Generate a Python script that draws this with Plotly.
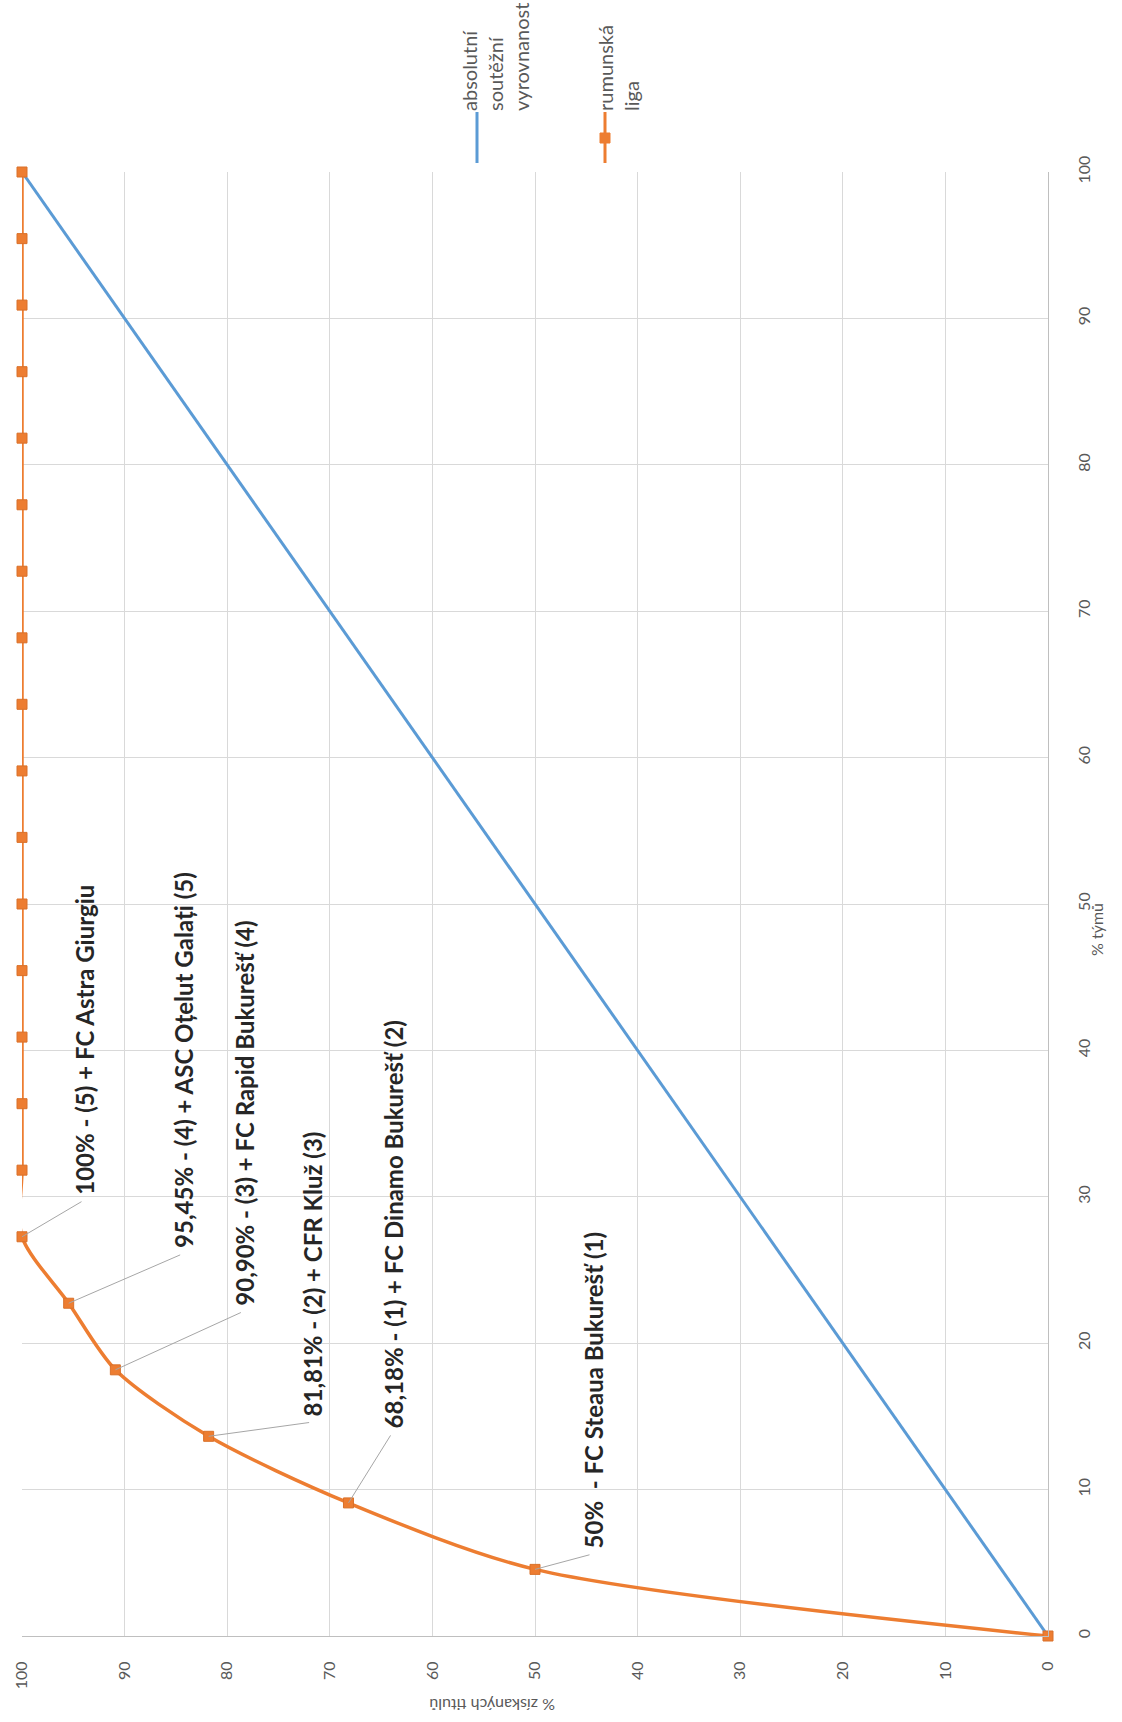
import plotly.graph_objects as go

# ---------------- data ----------------
teams_pct = [0, 4.55, 9.09, 13.64, 18.18, 22.73, 27.27, 31.82, 36.36, 40.91, 45.45,
             50.0, 54.55, 59.09, 63.64, 68.18, 72.73, 77.27, 81.82, 86.36, 90.91,
             95.45, 100]
titles_pct = [0, 50, 68.18, 81.81, 90.90, 95.45, 100, 100, 100, 100, 100,
              100, 100, 100, 100, 100, 100, 100, 100, 100, 100,
              100, 100]
equal_teams = [0, 100]
equal_titles = [0, 100]

series_names = ["absolutní<br>soutěžní<br>vyrovnanost", "rumunská<br>liga"]
axis_title_teams = "% týmů"
axis_title_titles = "% získaných titulů"
tick_vals = [0, 10, 20, 30, 40, 50, 60, 70, 80, 90, 100]

label_texts = [
    "100% - (5) + FC Astra Giurgiu",
    "95,45% - (4) + ASC Oțelut Galați (5)",
    "90,90% - (3) + FC Rapid Bukurešť (4)",
    "81,81% - (2) + CFR Kluž (3)",
    "68,18% - (1) + FC Dinamo Bukurešť (2)",
    "50%  - FC Steaua Bukurešť (1)",
]
label_point_index = [6, 5, 4, 3, 2, 1]
# label placement offsets in pixels (dx to text centre, dy from point to text start)
label_dx = [63, 115, 129, 104, 45, 58]
label_dy = [40, 53, 62, 18, 73, 19]

# ---------------- layout geometry ----------------
W, H = 1122, 1722
L, R, T, B = 22, 1048, 172, 1636
PW, PH = R - L, B - T


def px_x(px):
    return (px - L) / PW


def px_y(py):
    return (B - py) / PH


BLUE = "#5b9bd5"
ORANGE = "#ed7d31"
GRID = "#d9d9d9"
TXT = "#595959"
FONT = "Lato, Open Sans, sans-serif"

fig = go.Figure()
fig.add_trace(go.Scatter(
    x=equal_titles, y=equal_teams, mode="lines",
    line=dict(color=BLUE, width=3), cliponaxis=False, showlegend=False,
))
fig.add_trace(go.Scatter(
    x=titles_pct, y=teams_pct, mode="lines+markers",
    line=dict(color=ORANGE, width=3.5, shape="spline", smoothing=0.8),
    marker=dict(symbol="square", size=10, color=ORANGE,
                line=dict(color="#d9712a", width=1)),
    cliponaxis=False, showlegend=False,
))

annotations = []
# data labels with leader lines
for txt, idx, dx, dy in zip(label_texts, label_point_index, label_dx, label_dy):
    xv, yv = titles_pct[idx], teams_pct[idx]
    annotations.append(dict(
        x=xv, y=yv, xref="x", yref="y", text="", showarrow=True,
        ax=dx - 2, ay=-(dy - 4), axref="pixel", ayref="pixel",
        arrowhead=0, arrowwidth=1, arrowcolor="#a6a6a6", standoff=0,
    ))
    annotations.append(dict(
        x=xv, y=yv, xref="x", yref="y", text=txt, showarrow=False,
        textangle=-90, xanchor="center", yanchor="bottom",
        xshift=dx, yshift=dy,
        font=dict(family=FONT, size=24, color="#262626", weight="bold"),
    ))

# axis titles (rotated like the source image)
annotations.append(dict(
    x=px_x(1096), y=px_y(930), xref="paper", yref="paper",
    text=axis_title_teams, showarrow=False, textangle=-90,
    xanchor="center", yanchor="middle",
    font=dict(family=FONT, size=16, color=TXT),
))
annotations.append(dict(
    x=px_x(492), y=px_y(1706), xref="paper", yref="paper",
    text=axis_title_titles, showarrow=False, textangle=180,
    xanchor="center", yanchor="middle",
    font=dict(family=FONT, size=16, color=TXT),
))

# legend (rotated)
annotations.append(dict(
    x=px_x(495), y=px_y(113), xref="paper", yref="paper",
    text=series_names[0], showarrow=False, textangle=-90, align="left",
    xanchor="center", yanchor="bottom",
    font=dict(family=FONT, size=20, color=TXT),
))
annotations.append(dict(
    x=px_x(618), y=px_y(113), xref="paper", yref="paper",
    text=series_names[1], showarrow=False, textangle=-90, align="left",
    xanchor="center", yanchor="bottom",
    font=dict(family=FONT, size=20, color=TXT),
))

shapes = [
    dict(type="line", xref="paper", yref="paper",
         x0=px_x(477), x1=px_x(477), y0=px_y(112), y1=px_y(163),
         line=dict(color=BLUE, width=3)),
    dict(type="line", xref="paper", yref="paper",
         x0=px_x(605), x1=px_x(605), y0=px_y(112), y1=px_y(163),
         line=dict(color=ORANGE, width=3)),
    dict(type="rect", xref="paper", yref="paper",
         x0=px_x(600), x1=px_x(610), y0=px_y(133), y1=px_y(143),
         fillcolor=ORANGE, line=dict(color=ORANGE, width=1)),
]

fig.update_layout(
    width=W, height=H, autosize=False,
    margin=dict(l=L, r=W - R, t=T, b=H - B, pad=0),
    paper_bgcolor="white", plot_bgcolor="white",
    font=dict(family=FONT, color=TXT),
    annotations=annotations, shapes=shapes,
    xaxis=dict(
        range=[100, 0], tickvals=tick_vals, showgrid=True, gridcolor=GRID,
        gridwidth=1, zeroline=False, showline=True, linecolor="#bfbfbf",
        linewidth=1, mirror=False, ticks="", tickangle=-90, automargin=False,
        tickfont=dict(family=FONT, size=16, color=TXT), ticklabelstandoff=18,
    ),
    yaxis=dict(
        range=[0, 100], tickvals=tick_vals, side="right", showgrid=True,
        gridcolor=GRID, gridwidth=1, zeroline=False, showline=True,
        linecolor="#bfbfbf", linewidth=1, ticks="", tickangle=-90,
        automargin=False,
        tickfont=dict(family=FONT, size=16, color=TXT), ticklabelstandoff=22,
    ),
)

fig.write_html(
    "out.html",
    config={"displayModeBar": False},
    post_script="document.body.style.margin='0';document.body.style.padding='0';",
)
